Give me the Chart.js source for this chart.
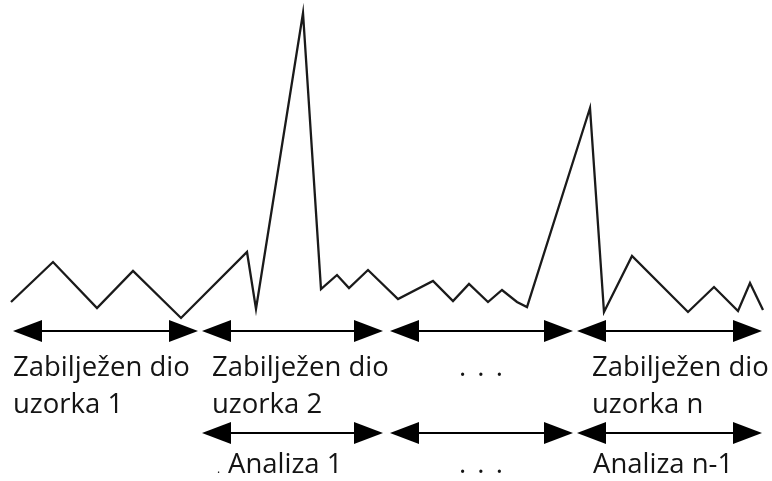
<!DOCTYPE html>
<html>
<head>
<meta charset="utf-8">
<script src="https://cdn.jsdelivr.net/npm/chart.js@4.4.1/dist/chart.umd.min.js"></script>
<style>
  html, body { margin: 0; padding: 0; background: #fff; }
  #wrap { width: 772px; height: 481px; }
</style>
</head>
<body>
<div id="wrap"><canvas id="signalChart" width="772" height="481"></canvas></div>
<script>
// signal samples (x position, amplitude)
const sampleX = [11, 53, 97, 133, 181, 247, 256, 303, 321, 337, 349, 368, 398, 433, 453, 469, 488, 502, 517, 527, 590, 604, 632, 688, 714, 738, 750, 763];
const sampleY = [179, 219, 173, 210, 163, 229, 172, 468, 192, 206, 193, 211, 182, 200, 180, 197, 179, 191, 179, 174, 373, 169, 225, 169, 194, 170, 198, 171];

// double arrows: [start, end]
const recordSpans = [[13, 198], [202, 383], [390, 573], [577, 762]];
const analysisSpans = [[202, 383], [390, 573], [577, 762]];
const recordLevel = 150;
const analysisLevel = 48;

// labels under the arrows
const recordLabels = [
  ['Zabilježen dio', 'uzorka 1'],
  ['Zabilježen dio', 'uzorka 2'],
  ['. . .'],
  ['Zabilježen dio', 'uzorka n']
];
const recordLabelX = [13, 212, 459, 592];
const analysisLabels = ['.', 'Analiza 1', '. . .', 'Analiza n-1'];
const analysisLabelX = [217, 228, 459, 593];
const labelLine1 = 105;
const labelLine2 = 68;
const analysisLine = 8;

const arrowPlugin = {
  id: 'arrows',
  afterDatasetsDraw(chart) {
    const ctx = chart.ctx;
    const xs = chart.scales.x, ys = chart.scales.y;
    const drawArrow = function(x0, x1, level) {
      const a = xs.getPixelForValue(x0), b = xs.getPixelForValue(x1);
      const y = ys.getPixelForValue(level);
      const len = 29, half = 11;
      ctx.save();
      ctx.strokeStyle = '#000';
      ctx.lineWidth = 2;
      ctx.beginPath();
      ctx.moveTo(a + len - 2, y);
      ctx.lineTo(b - len + 2, y);
      ctx.stroke();
      ctx.fillStyle = '#000';
      ctx.beginPath();
      ctx.moveTo(a, y);
      ctx.lineTo(a + len, y - half);
      ctx.lineTo(a + len, y + half);
      ctx.closePath();
      ctx.fill();
      ctx.beginPath();
      ctx.moveTo(b, y);
      ctx.lineTo(b - len, y - half);
      ctx.lineTo(b - len, y + half);
      ctx.closePath();
      ctx.fill();
      ctx.restore();
    };
    recordSpans.forEach(s => drawArrow(s[0], s[1], recordLevel));
    analysisSpans.forEach(s => drawArrow(s[0], s[1], analysisLevel));

    // text
    const font = '27.5px "Open Sans"';
    const put = function(t, x, y) {
      ctx.letterSpacing = t.indexOf('. .') === 0 ? '2px' : '0px';
      ctx.font = t === '.' ? '12px "Open Sans"' : font;
      ctx.fillText(t, xs.getPixelForValue(x), ys.getPixelForValue(y));
    };
    ctx.save();
    ctx.fillStyle = '#141414';
    ctx.textBaseline = 'alphabetic';
    recordLabels.forEach((lines, i) => {
      put(lines[0], recordLabelX[i], labelLine1);
      if (lines[1]) put(lines[1], recordLabelX[i], labelLine2);
    });
    analysisLabels.forEach((t, i) => put(t, analysisLabelX[i], analysisLine));
    ctx.restore();
  }
};

new Chart(document.getElementById('signalChart'), {
  type: 'line',
  data: {
    datasets: [{
      data: sampleX.map((x, i) => ({ x: x, y: sampleY[i] })),
      borderColor: '#1a1a1a',
      borderWidth: 2.3,
      pointRadius: 0,
      tension: 0,
      fill: false
    }]
  },
  options: {
    responsive: false,
    animation: false,
    layout: { padding: 0 },
    plugins: { legend: { display: false }, tooltip: { enabled: false } },
    scales: {
      x: { type: 'linear', min: 0, max: 772, display: false },
      y: { type: 'linear', min: 0, max: 481, display: false }
    }
  },
  plugins: [arrowPlugin]
});
</script>
</body>
</html>
